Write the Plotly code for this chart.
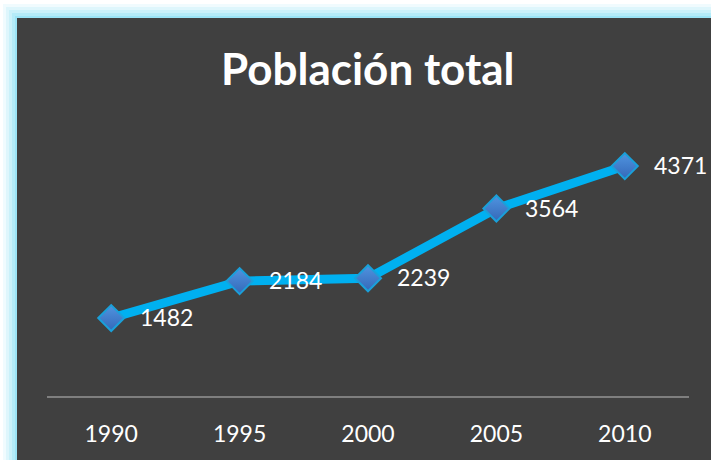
import plotly.graph_objects as go

years = ["1990", "1995", "2000", "2005", "2010"]
population = [1482, 2184, 2239, 3564, 4371]
title_text = "Población total"

W, H = 711, 460
L, R, T, B = 47, 689, 133, 396  # plot area in pixels
pw, ph = R - L, B - T

def px(x):
    return (x - L) / pw

def py(y):
    return (B - y) / ph

fig = go.Figure()

fig.add_trace(go.Scatter(
    x=years, y=population, mode="lines+markers",
    line=dict(color="#00B0F0", width=9),
    marker=dict(symbol="diamond", size=20, color="#5094E0",
                gradient=dict(type="vertical", color="#3468B8"),
                line=dict(color="#1AA0DA", width=2)),
    hoverinfo="skip", showlegend=False,
))

annotations = []
for i, v in enumerate(population):
    annotations.append(dict(
        x=i, y=v, xref="x", yref="y", text=str(v), showarrow=False,
        xanchor="left", yanchor="middle", xshift=27, yshift=1,
        font=dict(family="Lato", size=23, color="white"),
    ))
annotations.append(dict(
    x=0.5, y=py(68), xref="paper", yref="paper", text="<b>" + title_text + "</b>",
    showarrow=False, xanchor="center", yanchor="middle",
    font=dict(family="Lato", size=44, color="white"),
))

shapes = []
# glow around the panel
glow_steps = [(14, 0.08), (11, 0.10), (8, 0.13), (5, 0.17), (2, 0.22)]
for d, a in glow_steps:
    shapes.append(dict(type="rect", xref="paper", yref="paper", layer="below",
                       x0=px(17 - d), x1=px(W + 20), y0=py(H + 20), y1=py(18 - d),
                       line=dict(width=0), fillcolor=f"rgba(70,205,240,{a})"))
# dark panel
shapes.append(dict(type="rect", xref="paper", yref="paper", layer="below",
                   x0=px(17), x1=px(W + 20), y0=py(H + 20), y1=py(18),
                   line=dict(width=0), fillcolor="#404040"))

fig.update_layout(
    width=W, height=H,
    margin=dict(l=L, r=W - R, t=T, b=H - B, pad=0),
    paper_bgcolor="white", plot_bgcolor="rgba(0,0,0,0)",
    shapes=shapes, annotations=annotations,
    xaxis=dict(type="category", showgrid=False, zeroline=False,
               showline=True, linecolor="#7F7F7F", linewidth=2,
               ticks="", ticklabelstandoff=16,
               tickfont=dict(family="Lato", size=23, color="white"),
               range=[-0.5, 4.5], fixedrange=True),
    yaxis=dict(range=[0, 5000], showgrid=False, zeroline=False,
               showticklabels=False, showline=False, fixedrange=True),
)

fig.write_html(
    "out.html",
    config={"displayModeBar": False},
    post_script="document.body.style.margin='0';document.body.style.overflow='hidden';",
)
